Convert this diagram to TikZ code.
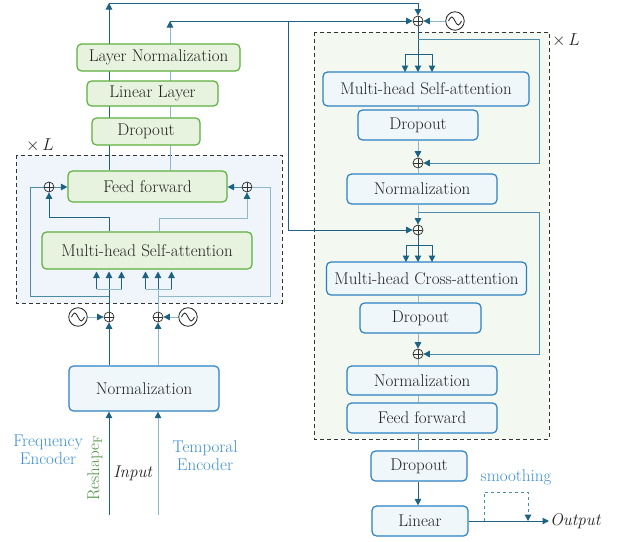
\documentclass[tikz,border=0pt]{standalone}
\usetikzlibrary{arrows.meta,calc}
\definecolor{dk}{HTML}{1D6283}
\definecolor{lt}{HTML}{8DB7CC}
\definecolor{md}{HTML}{4D8BAA}
\definecolor{gbd}{HTML}{5DAF3C}
\definecolor{gfl}{HTML}{E7F3DE}
\definecolor{bbd}{HTML}{2B80C2}
\definecolor{bfl}{HTML}{EFF7FA}
\definecolor{lbox}{HTML}{EFF5FA}
\definecolor{rbox}{HTML}{F3F8F1}
\definecolor{lab}{HTML}{3B8FD4}
\definecolor{rsh}{HTML}{4C9040}
\definecolor{txt}{HTML}{222222}
\pgfdeclarelayer{behind}
\pgfsetlayers{behind,main}
\begin{document}
\begin{tikzpicture}[x=1pt,y=-1pt,
  every node/.style={font=\fontsize{17}{18}\selectfont, text=txt},
  gbox/.style={draw=gbd, fill=gfl, rounded corners=4.5pt, line width=1.2pt, inner sep=0pt},
  bbox/.style={draw=bbd, fill=bfl, rounded corners=4.5pt, line width=1.2pt, inner sep=0pt},
  cont/.style={draw=black!80, line width=1pt, dash pattern=on 4pt off 3pt},
  ln/.style={line width=1pt},
  arr/.style={-{Triangle[length=6.5pt,width=6.5pt,color=dk]}},
  plus/.style={circle, draw=black!80, line width=0.75pt, minimum size=10pt, inner sep=0pt,
    path picture={\draw[line width=0.75pt,black!80] (path picture bounding box.north) -- (path picture bounding box.south)
      (path picture bounding box.west) -- (path picture bounding box.east);}},
  sine/.style={circle, draw=black!85, line width=0.85pt, minimum size=18.5pt, inner sep=0pt,
    path picture={\draw[line width=0.85pt,black!85] ([xshift=-6.5pt]path picture bounding box.center)
      sin ++(3.25pt,4pt) cos ++(3.25pt,-4pt) sin ++(3.25pt,-4pt) cos ++(3.25pt,4pt);}}]
\useasboundingbox (0,0) rectangle (617,541);

% containers
\begin{pgfonlayer}{behind}
\draw[cont, fill=lbox] (16,155) rectangle (282,303);
\draw[cont, fill=rbox] (314,32) rectangle (549,439);
\end{pgfonlayer}
\node at (40,145) {$\times\,L$};
\node at (566,40) {$\times\,L$};

% ---------- left (encoder) ----------
\node[gbox, minimum width=163pt, minimum height=27pt] (lnorm) at (158.5,57.5) {Layer Normalization};
\node[gbox, minimum width=131pt, minimum height=25pt] (llin) at (152.5,93.5) {Linear Layer};
\node[gbox, minimum width=108pt, minimum height=27pt] (do1) at (146,131.5) {Dropout};
\node[gbox, minimum width=159pt, minimum height=31pt] (ff1) at (147.5,186.5) {Feed forward};
\node[gbox, minimum width=210pt, minimum height=37pt] (mhsa1) at (147,250.5) {Multi-head Self-attention};
\node[bbox, minimum width=150pt, minimum height=45pt] (norm1) at (144,388.5) {Normalization};
\node[plus] (pl1) at (49,187) {};
\node[plus] (pr1) at (247,187) {};
\node[plus] (pe1) at (109,317) {};
\node[plus] (pe2) at (158,317) {};
\node[sine] (s1) at (78,317) {};
\node[sine] (s2) at (188,317) {};

\coordinate (inF) at (109,515);
\coordinate (inT) at (158,515);
\coordinate (fL) at (109,289);
\coordinate (fT) at (158,289);
\coordinate (bL) at (109,296);
\coordinate (bT) at (158,296);
\coordinate (oT) at (159.5,232);
\coordinate (topF) at (109,3);
\coordinate (topT) at (170,21);
\coordinate (jT) at (288,21);

\draw[ln,dk,arr] (inF) -- (inF |- norm1.south);
\draw[ln,lt,arr] (inT) -- (inT |- norm1.south);
\draw[ln,dk,arr] (pe1 |- norm1.north) -- (pe1.south);
\draw[ln,lt,arr] (pe2 |- norm1.north) -- (pe2.south);
\draw[ln,lt,arr] (s1) -- (pe1);
\draw[ln,lt,arr] (s2) -- (pe2);

\draw[ln,dk] (pe1.north) -- (fL);
\draw[ln,lt] (pe2.north) -- (fT);
\draw[ln,lt] ($(fL)+(-12.5,0)$) -- ($(fL)+(12.5,0)$);
\draw[ln,lt] ($(fT)+(-12.5,0)$) -- ($(fT)+(13.5,0)$);
\foreach \dx in {-12.5,0,12.5} \draw[ln,dk,arr] ($(fL)+(\dx,0)$) -- ++(0,-17.5);
\foreach \dx in {-12.5,0,13.5} \draw[ln,dk,arr] ($(fT)+(\dx,0)$) -- ++(0,-17.5);
\draw[ln,md] (bL) -- (30,296) |- (pl1.west);
\draw[ln,lt] (bT) -- (270,296) |- (pr1.east);
\draw[ln,dk,arr] (mhsa1.north -| fL) -- ++(0,-14) -| (pl1.south);
\draw[ln,lt,arr] (oT) -- ++(0,-14) -| (pr1.south);
\draw[ln,md,arr] (pl1.east) -- (ff1.west |- pl1);
\draw[ln,md,arr] (pr1.west) -- (ff1.east |- pr1);

\begin{pgfonlayer}{behind}
\draw[ln,dk,arr] (ff1.north -| topF) -- (topF);
\draw[ln,lt,arr] (ff1.north -| topT) -- (topT);
\end{pgfonlayer}

% ---------- right (decoder) ----------
\node[plus] (t1) at (418,21) {};
\node[sine] (s3) at (455,21) {};
\node[bbox, minimum width=206pt, minimum height=34pt] (mhsa2) at (426,89) {Multi-head Self-attention};
\node[bbox, minimum width=120pt, minimum height=30pt] (do2) at (418,125) {Dropout};
\node[plus] (a1) at (418,163) {};
\node[bbox, minimum width=150pt, minimum height=30pt] (nm2) at (422,189) {Normalization};
\node[plus] (t2) at (418,230) {};
\node[bbox, minimum width=200pt, minimum height=33pt] (mhca) at (426.5,278.5) {Multi-head Cross-attention};
\node[bbox, minimum width=121pt, minimum height=30pt] (do3) at (420.5,318) {Dropout};
\node[plus] (a2) at (418,354) {};
\node[bbox, minimum width=150pt, minimum height=29pt] (nm3) at (422,380.5) {Normalization};
\node[bbox, minimum width=150pt, minimum height=30pt] (ff2) at (422,418) {Feed forward};
\node[bbox, minimum width=96pt, minimum height=30pt] (do4) at (419,466) {Dropout};
\node[bbox, minimum width=96pt, minimum height=30pt] (lin) at (420,521) {Linear};
\node[anchor=west, inner sep=1pt] (out) at (549,521) {\textit{Output}};

\draw[ln,dk,arr] (topF) -| (t1.north);
\draw[ln,dk,arr] (topT) -- (t1.west);
\draw[ln,dk,arr] (jT) |- (t2.west);
\draw[ln,lt,arr] (s3) -- (t1);

\coordinate (r1) at (418,39);
\coordinate (fR1) at (418,54);
\coordinate (r2) at (418,212);
\coordinate (fR2) at (418,245);
\draw[ln,dk] (t1.south) -- (fR1);
\draw[ln,dk] ($(fR1)+(-13,0)$) -- ($(fR1)+(14,0)$);
\foreach \dx in {-13,0,14} \draw[ln,dk,arr] ($(fR1)+(\dx,0)$) -- ++(0,18);
\draw[ln,md,arr] (r1) -- (539,39) |- (a1.east);
\draw[ln,lt] (mhsa2.south -| t1) -- (do2.north -| t1);
\draw[ln,lt,arr] (do2.south -| t1) -- (a1.north);
\draw[ln,lt] (a1.south) -- (nm2.north -| t1);
\draw[ln,lt,arr] (nm2.south -| t1) -- (t2.north);
\draw[ln,md,arr] (r2) -- (539,212) |- (a2.east);
\draw[ln,dk] (t2.south) -- (fR2);
\draw[ln,dk] ($(fR2)+(-12,0)$) -- ($(fR2)+(14,0)$);
\foreach \dx in {-12,0,14} \draw[ln,dk,arr] ($(fR2)+(\dx,0)$) -- ++(0,17);
\draw[ln,lt] (mhca.south -| t1) -- (do3.north -| t1);
\draw[ln,lt,arr] (do3.south -| t1) -- (a2.north);
\draw[ln,lt] (a2.south) -- (nm3.north -| t1);
\draw[ln,lt] (nm3.south -| t1) -- (ff2.north -| t1);
\draw[ln,md] (ff2.south -| t1) -- (do4.north -| t1);
\draw[ln,dk,arr] (do4.south -| t1) -- (lin.north -| t1);
\draw[ln,dk,arr] (lin.east) -- (out.west);

\coordinate (sm1) at (484,521);
\coordinate (sm2) at (528,521);
\draw[ln,md,dashed,arr] (sm1) -- ++(0,-29) -| (sm2);
\node[text=lab] (smt) at (516,477) {smoothing};

% labels
\node[text=lab, align=center] (fenc) at (48,450) {Frequency\\Encoder};
\node[text=lab, align=center] (tenc) at (205,456) {Temporal\\Encoder};
\node[text=rsh, rotate=90] (rsp) at (95,468) {Reshape$_{\mathrm{F}}$};
\node (inp) at (133,473) {\textit{Input}};
\end{tikzpicture}
\end{document}
